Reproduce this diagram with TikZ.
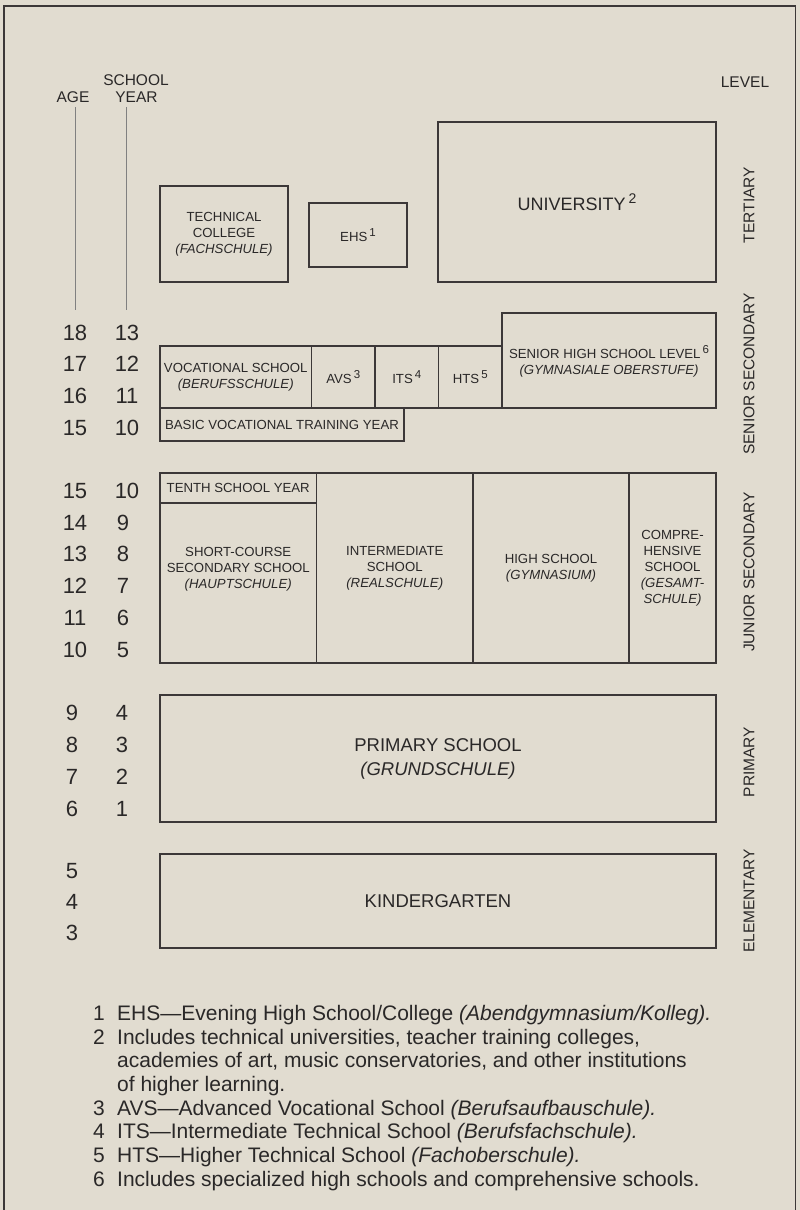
\documentclass[tikz,border=0pt]{standalone}
\usepackage{fontspec}
\setmainfont{Liberation Sans}
\definecolor{bg}{RGB}{225,220,208}
\definecolor{ink}{RGB}{42,40,40}
\definecolor{rule}{RGB}{60,56,56}
\newcommand\bxf{\fontsize{13.2}{16}\selectfont}
\newcommand\hdf{\fontsize{15.5}{18}\selectfont}
\newcommand\agf{\fontsize{22}{24}\selectfont}
\newcommand\fnf{\fontsize{21}{23.7}\selectfont}
\newcommand\sups[1]{\hspace{2pt}\raisebox{5pt}{\fontsize{11.5}{11.5}\selectfont #1}}
\begin{document}
\begin{tikzpicture}[x=1pt,y=-1pt,
  box/.style={draw=rule,line width=1.1pt,inner sep=0pt,outer sep=0pt,text=ink,font=\bxf,align=center},
  lbl/.style={inner sep=0pt,text=ink,font=\bxf,align=center},
  levellbl/.style={inner sep=0pt,text=ink,font=\hdf,rotate=90},
  hdr/.style={inner sep=0pt,text=ink,font=\hdf},
  num/.style={inner sep=0pt,text=ink,font=\agf},
  fnnum/.style={inner sep=0pt,text=ink,font=\fnf,anchor=base west},
  fntext/.style={inner sep=0pt,text=ink,font=\fnf,anchor=base west}]
\fill[bg] (0,0) rectangle (800,1210);
\useasboundingbox (0,0) rectangle (800,1210);
% frame
\draw[rule,line width=1.2pt] (4,1210) -- (4,6) -- (795.5,6) -- (795.5,1210);
% headers
\node[hdr] (age) at (73,97) {AGE};
\node[hdr] (school) at (136,80) {SCHOOL};
\node[hdr] (year) at (136.5,97) {YEAR};
\node[hdr] (level) at (745,82) {LEVEL};
\coordinate (agetop) at (75.7,107);
\coordinate (agebot) at (75.7,310);
\coordinate (yeartop) at (126,107);
\coordinate (yearbot) at (126,310);
\draw[gray,line width=0.8pt] (agetop) -- (agebot);
\draw[gray,line width=0.8pt] (yeartop) -- (yearbot);
% tertiary
\node[box,minimum width=128pt,minimum height=96pt] (tech) at (224,234) {TECHNICAL\\COLLEGE\\\textit{(FACHSCHULE)}};
\node[box,minimum width=98pt,minimum height=64pt] (ehs) at (358,235) {EHS\sups{1}};
\node[box,minimum width=278pt,minimum height=160pt,font=\fontsize{18}{20}\selectfont] (univ) at (577,202) {UNIVERSITY\hspace{3pt}\raisebox{7pt}{\fontsize{14}{14}\selectfont 2}};
% senior secondary
\node[box,minimum width=151.5pt,minimum height=62pt] (voc) at (235.75,377) {VOCATIONAL SCHOOL\\\textit{(BERUFSSCHULE)}};
\node[box,minimum width=63.5pt,minimum height=62pt] (avs) at (343.25,377) {AVS\sups{3}};
\node[box,minimum width=63.5pt,minimum height=62pt] (its) at (406.75,377) {ITS\sups{4}};
\node[box,minimum width=63.5pt,minimum height=62pt] (hts) at (470.25,377) {HTS\sups{5}};
\node[box,minimum width=214pt,minimum height=95pt] (senior) at (609,360.5) {};
\node[lbl] (seniorlbl) at (609,361.5) {SENIOR HIGH SCHOOL LEVEL\sups{6}\\\textit{(GYMNASIALE OBERSTUFE)}};
\node[box,minimum width=244pt,minimum height=33pt] (basic) at (282,424.5) {BASIC VOCATIONAL TRAINING YEAR};
% junior secondary
\node[box,minimum width=156.5pt,minimum height=30pt] (tenth) at (238.25,488) {TENTH SCHOOL YEAR};
\node[box,minimum width=156.5pt,minimum height=160pt] (haupt) at (238.25,583) {};
\node[lbl] (hauptlbl) at (238.25,569) {SHORT-COURSE\\SECONDARY SCHOOL\\\textit{(HAUPTSCHULE)}};
\node[box,minimum width=156.5pt,minimum height=190pt] (real) at (394.75,568) {INTERMEDIATE\\SCHOOL\\\textit{(REALSCHULE)}};
\node[box,minimum width=156pt,minimum height=190pt] (gym) at (551,568) {HIGH SCHOOL\\\textit{(GYMNASIUM)}};
\node[box,minimum width=87pt,minimum height=190pt] (gesamt) at (672.5,568) {COMPRE-\\HENSIVE\\SCHOOL\\\textit{(GESAMT-}\\\textit{SCHULE)}};
% primary, elementary
\node[box,minimum width=556pt,minimum height=127pt,font=\fontsize{18.5}{24}\selectfont] (primary) at (438,758.5) {PRIMARY SCHOOL\\\textit{(GRUNDSCHULE)}};
\node[box,minimum width=556pt,minimum height=94pt,font=\fontsize{18.5}{20}\selectfont] (kinder) at (438,901) {KINDERGARTEN};
% level labels
\node[levellbl] (tert) at (749,205) {TERTIARY};
\node[levellbl] (ssec) at (749,374) {SENIOR SECONDARY};
\node[levellbl] (jsec) at (749,572) {JUNIOR SECONDARY};
\node[levellbl] (prim) at (749,762) {PRIMARY};
\node[levellbl] (elem) at (749,901) {ELEMENTARY};
% ages and years
\node[num] (a18) at (75,333) {18}; \node[num] (y13) at (127,333) {13};
\node[num] (a17) at (75,364) {17}; \node[num] (y12) at (127,364) {12};
\node[num] (a16) at (75,396) {16}; \node[num] (y11) at (127,396) {11};
\node[num] (a15) at (75,428) {15}; \node[num] (y10) at (127,428) {10};
\node[num] (b15) at (75,491) {15}; \node[num] (z10) at (127,491) {10};
\node[num] (b14) at (75,523) {14}; \node[num] (z9) at (123,523) {9};
\node[num] (b13) at (75,554) {13}; \node[num] (z8) at (123,554) {8};
\node[num] (b12) at (75,586) {12}; \node[num] (z7) at (123,586) {7};
\node[num] (b11) at (75,618) {11}; \node[num] (z6) at (123,618) {6};
\node[num] (b10) at (75,650) {10}; \node[num] (z5) at (123,650) {5};
\node[num] (c9) at (72,713) {9}; \node[num] (w4) at (122,713) {4};
\node[num] (c8) at (72,745) {8}; \node[num] (w3) at (122,745) {3};
\node[num] (c7) at (72,777) {7}; \node[num] (w2) at (122,777) {2};
\node[num] (c6) at (72,809) {6}; \node[num] (w1) at (122,809) {1};
\node[num] (d5) at (72,871) {5};
\node[num] (d4) at (72,902) {4};
\node[num] (d3) at (72,933) {3};
% footnotes
\node[fnnum] (n1) at (93,1020) {1};
\node[fntext] (t1) at (117,1020) {EHS—Evening High School/College \textit{(Abendgymnasium/Kolleg).}};
\node[fnnum] (n2) at (93,1044) {2};
\node[fntext] (t2) at (117,1044) {Includes technical universities, teacher training colleges,};
\node[fntext] (t2b) at (117,1067) {academies of art, music conservatories, and other institutions};
\node[fntext] (t2c) at (117,1091) {of higher learning.};
\node[fnnum] (n3) at (93,1115) {3};
\node[fntext] (t3) at (117,1115) {AVS—Advanced Vocational School \textit{(Berufsaufbauschule).}};
\node[fnnum] (n4) at (93,1138) {4};
\node[fntext] (t4) at (117,1138) {ITS—Intermediate Technical School \textit{(Berufsfachschule).}};
\node[fnnum] (n5) at (93,1162) {5};
\node[fntext] (t5) at (117,1162) {HTS—Higher Technical School \textit{(Fachoberschule).}};
\node[fnnum] (n6) at (93,1186) {6};
\node[fntext] (t6) at (117,1186) {Includes specialized high schools and comprehensive schools.};
\end{tikzpicture}
\end{document}
